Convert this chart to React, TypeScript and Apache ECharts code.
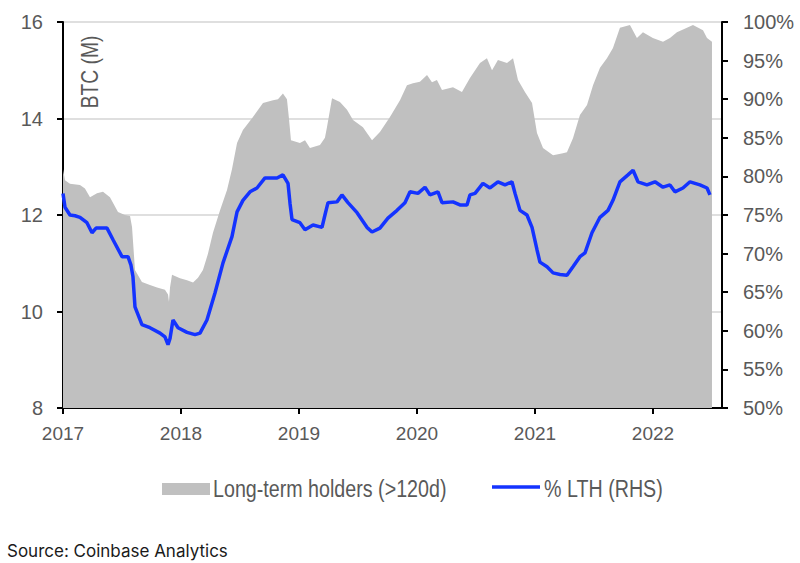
import React, { useEffect, useRef } from "react";
import * as echarts from "echarts";

// Long-term holders (BTC, millions) - left axis
const lthDates = [
  2017.0, 2017.017, 2017.059, 2017.144, 2017.186, 2017.229, 2017.288, 2017.339, 2017.398, 2017.466,
  2017.525, 2017.568, 2017.585, 2017.61, 2017.669, 2017.737, 2017.797, 2017.864, 2017.89, 2017.898,
  2017.907, 2017.924, 2017.992, 2018.051, 2018.102, 2018.144, 2018.186, 2018.229, 2018.271, 2018.331,
  2018.39, 2018.432, 2018.475, 2018.525, 2018.61, 2018.695, 2018.78, 2018.822, 2018.864, 2018.898,
  2018.915, 2018.932, 2019.008, 2019.051, 2019.093, 2019.178, 2019.22, 2019.237, 2019.28, 2019.347,
  2019.407, 2019.458, 2019.542, 2019.619, 2019.686, 2019.771, 2019.856, 2019.915, 2019.966, 2020.025,
  2020.085, 2020.127, 2020.169, 2020.212, 2020.305, 2020.381, 2020.449, 2020.534, 2020.593, 2020.636,
  2020.686, 2020.763, 2020.814, 2020.856, 2020.915, 2020.975, 2021.017, 2021.068, 2021.153, 2021.237,
  2021.271, 2021.322, 2021.381, 2021.441, 2021.492, 2021.551, 2021.61, 2021.661, 2021.72, 2021.805,
  2021.864, 2021.915, 2021.999, 2022.085, 2022.144, 2022.203, 2022.288, 2022.339, 2022.424, 2022.458,
  2022.5,
];
const lthValues = [
  12.95, 12.72, 12.65, 12.62, 12.55, 12.37, 12.45, 12.48, 12.37, 12.06,
  12.0, 11.98, 11.75, 10.86, 10.61, 10.55, 10.5, 10.45, 10.35, 10.2,
  10.5, 10.76, 10.69, 10.65, 10.6, 10.7, 10.86, 11.2, 11.63, 12.1,
  12.52, 12.95, 13.49, 13.76, 14.03, 14.32, 14.38, 14.4, 14.52, 14.4,
  14.0, 13.55, 13.49, 13.55, 13.39, 13.45, 13.6, 13.82, 14.42, 14.34,
  14.18, 13.97, 13.82, 13.55, 13.72, 14.03, 14.38, 14.69, 14.73, 14.76,
  14.9, 14.75, 14.8, 14.59, 14.65, 14.55, 14.84, 15.15, 15.25, 15.0,
  15.21, 15.15, 15.25, 14.8, 14.55, 14.32, 13.7, 13.39, 13.24, 13.28,
  13.3, 13.59, 14.07, 14.28, 14.69, 15.05, 15.25, 15.46, 15.88, 15.94,
  15.67, 15.79, 15.67, 15.59, 15.67, 15.79, 15.88, 15.94, 15.83, 15.67,
  15.59,
];

// % LTH (RHS)
const pctDates = [
  2017.0, 2017.017, 2017.059, 2017.102, 2017.144, 2017.203, 2017.246, 2017.28, 2017.314, 2017.373,
  2017.424, 2017.5, 2017.551, 2017.576, 2017.593, 2017.61, 2017.669, 2017.737, 2017.822, 2017.864,
  2017.89, 2017.907, 2017.932, 2017.975, 2018.051, 2018.119, 2018.161, 2018.22, 2018.288, 2018.356,
  2018.432, 2018.475, 2018.525, 2018.585, 2018.644, 2018.712, 2018.814, 2018.864, 2018.907, 2018.924,
  2018.941, 2019.008, 2019.051, 2019.119, 2019.195, 2019.22, 2019.246, 2019.322, 2019.364, 2019.415,
  2019.492, 2019.576, 2019.619, 2019.686, 2019.754, 2019.831, 2019.898, 2019.941, 2020.008, 2020.068,
  2020.11, 2020.178, 2020.212, 2020.305, 2020.364, 2020.424, 2020.449, 2020.492, 2020.559, 2020.619,
  2020.686, 2020.746, 2020.805, 2020.831, 2020.873, 2020.932, 2020.975, 2021.017, 2021.042, 2021.102,
  2021.153, 2021.212, 2021.271, 2021.322, 2021.381, 2021.424, 2021.483, 2021.551, 2021.619, 2021.661,
  2021.72, 2021.788, 2021.831, 2021.873, 2021.949, 2022.017, 2022.085, 2022.144, 2022.186, 2022.254,
  2022.314, 2022.398, 2022.458, 2022.483,
];
const pctValues = [
  77.8, 76.0, 75.0, 74.9, 74.7, 74.0, 72.7, 73.3, 73.3, 73.3,
  71.8, 69.6, 69.6, 68.5, 67.0, 63.1, 60.8, 60.4, 59.7, 59.2,
  58.2, 59.0, 61.4, 60.4, 59.8, 59.5, 59.7, 61.4, 64.9, 68.8,
  72.2, 75.4, 76.9, 78.0, 78.5, 79.8, 79.8, 80.2, 79.1, 76.5,
  74.4, 74.0, 73.1, 73.7, 73.4, 75.0, 76.6, 76.7, 77.6, 76.6,
  75.3, 73.4, 72.8, 73.3, 74.6, 75.6, 76.6, 78.0, 77.8, 78.6,
  77.6, 78.0, 76.6, 76.7, 76.3, 76.3, 77.6, 77.8, 79.1, 78.5,
  79.3, 78.9, 79.3, 77.8, 75.6, 75.0, 73.4, 70.5, 68.9, 68.3,
  67.5, 67.3, 67.2, 68.3, 69.6, 70.1, 72.7, 74.7, 75.6, 76.9,
  79.3, 80.2, 80.8, 79.3, 78.9, 79.3, 78.6, 78.9, 78.0, 78.5,
  79.3, 78.9, 78.5, 77.6,
];

const yearTicks = [2017, 2018, 2019, 2020, 2021, 2022];
const leftTicks = { min: 8, max: 16, interval: 2 };
const rightTicks = { min: 50, max: 100, interval: 5 };

const SANS = "'Liberation Sans', Arial, sans-serif";
const GRAY_TEXT = "#595959";
const AREA = "#c0c0c0";
const BLUE = "#1433ff";
const NARROW_SCALE = 0.82;

export default function App() {
  const ref = useRef<HTMLDivElement>(null);

  useEffect(() => {
    if (!ref.current) return;
    const chart = echarts.init(ref.current, undefined, { renderer: "svg" });
    const axisLine = { show: true, lineStyle: { color: "#000", width: 2 } };
    const axisTick = { show: true, inside: false, length: 6, lineStyle: { color: "#000", width: 2 } };
    const labelStyle = { color: GRAY_TEXT, fontFamily: SANS, fontSize: 20 };

    chart.setOption({
      animation: false,
      backgroundColor: "#fff",
      grid: { left: 63, right: 78, top: 22, bottom: 155, containLabel: false },
      xAxis: {
        type: "value",
        min: 2017,
        max: 2022.585,
        interval: 1,
        axisLine: { ...axisLine, onZero: false },
        axisTick: { ...axisTick, customValues: yearTicks },
        axisLabel: {
          ...labelStyle,
          fontSize: 19,
          margin: 16,
          customValues: yearTicks,
          formatter: (v: number) => String(Math.round(v)),
        },
        splitLine: { show: false },
      },
      yAxis: [
        {
          type: "value",
          position: "left",
          ...leftTicks,
          axisLine,
          axisTick,
          axisLabel: { ...labelStyle, margin: 20 },
          splitLine: { show: true, lineStyle: { color: "#d4d4d4", width: 1.5 } },
        },
        {
          type: "value",
          position: "right",
          ...rightTicks,
          axisLine,
          axisTick,
          axisLabel: { ...labelStyle, margin: 21, formatter: "{value}%" },
          splitLine: { show: false },
        },
      ],
      series: [
        {
          name: "Long-term holders (>120d)",
          type: "line",
          yAxisIndex: 0,
          data: lthDates.map((d, i) => [d, lthValues[i]]),
          showSymbol: false,
          lineStyle: { width: 0 },
          areaStyle: { color: AREA, opacity: 1 },
          itemStyle: { color: AREA },
          z: 1,
        },
        {
          name: "% LTH (RHS)",
          type: "line",
          yAxisIndex: 1,
          data: pctDates.map((d, i) => [d, pctValues[i]]),
          showSymbol: false,
          lineStyle: { width: 3.5, color: BLUE },
          itemStyle: { color: BLUE },
          z: 3,
        },
      ],
      graphic: [
        {
          type: "text",
          x: 90,
          y: 72,
          rotation: Math.PI / 2,
          scaleX: NARROW_SCALE,
          style: {
            text: "BTC (M)",
            fill: GRAY_TEXT,
            font: `23.5px ${SANS}`,
            align: "center",
            verticalAlign: "middle",
          },
        },
        {
          type: "rect",
          shape: { x: 162, y: 483, width: 48, height: 12 },
          style: { fill: AREA },
        },
        {
          type: "text",
          x: 213,
          y: 489,
          scaleX: NARROW_SCALE,
          style: {
            text: "Long-term holders (>120d)",
            fill: GRAY_TEXT,
            font: `24px ${SANS}`,
            align: "left",
            verticalAlign: "middle",
          },
        },
        {
          type: "line",
          shape: { x1: 492, y1: 487, x2: 540, y2: 487 },
          style: { stroke: BLUE, lineWidth: 3.5 },
        },
        {
          type: "text",
          x: 544,
          y: 489,
          scaleX: NARROW_SCALE,
          style: {
            text: "% LTH (RHS)",
            fill: GRAY_TEXT,
            font: `24px ${SANS}`,
            align: "left",
            verticalAlign: "middle",
          },
        },
        {
          type: "text",
          x: 7,
          y: 551,
          style: {
            text: "Source: Coinbase Analytics",
            fill: "#1a1a1a",
            font: "17px Inter, 'Noto Sans', sans-serif",
            align: "left",
            verticalAlign: "middle",
          },
        },
      ],
    });
    return () => chart.dispose();
  }, []);

  return (
    <div
      ref={ref}
      style={{ position: "fixed", left: 0, top: 0, width: 800, height: 563, background: "#fff" }}
    />
  );
}
